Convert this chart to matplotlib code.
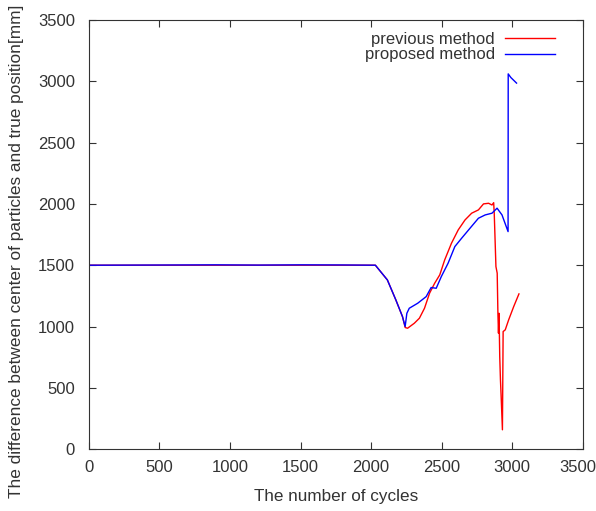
import matplotlib
matplotlib.use('Agg')
import matplotlib.pyplot as plt
from matplotlib.transforms import ScaledTranslation

# previous method (red)
prev_x = [0, 650, 1000, 1500, 2030, 2115, 2175, 2222, 2241, 2258, 2306, 2342, 2378,
          2414, 2450, 2486, 2521, 2569, 2617, 2665, 2712, 2760, 2796, 2832, 2856,
          2868, 2872, 2884, 2893, 2898, 2902, 2906, 2911, 2916, 2921, 2930, 2935,
          2950, 2974, 3010, 3047]
prev_y = [1500, 1500, 1500, 1500, 1500, 1380, 1217, 1081, 992, 986, 1027, 1068, 1149,
          1272, 1353, 1421, 1543, 1679, 1788, 1869, 1924, 1951, 2000, 2005, 1991,
          2010, 1924, 1489, 1435, 1108, 946, 1108, 755, 565, 429, 158, 959,
          973, 1054, 1163, 1266]

# proposed method (blue)
prop_x = [0, 650, 900, 1200, 1500, 1800, 2030, 2115, 2175, 2222, 2241, 2253, 2270,
          2330, 2390, 2425, 2461, 2497, 2545, 2593, 2641, 2700, 2760, 2808, 2856,
          2892, 2927, 2970, 2971, 2990, 3030]
prop_y = [1500, 1502, 1503, 1501, 1503, 1502, 1500, 1380, 1217, 1081, 1000, 1108, 1149,
          1190, 1244, 1318, 1312, 1407, 1516, 1652, 1720, 1801, 1883, 1910, 1924,
          1965, 1910, 1774, 3060, 3030, 2985]

x_ticks = [0, 500, 1000, 1500, 2000, 2500, 3000, 3500]
y_ticks = [0, 500, 1000, 1500, 2000, 2500, 3000, 3500]

plt.rcParams['font.family'] = ['Liberation Sans', 'DejaVu Sans']
txt = '#333333'

fig = plt.figure(figsize=(5.96, 5.11), dpi=100)
ax = fig.add_axes([0.149, 0.121, 0.829, 0.840])

ax.plot(prev_x, prev_y, color='#ff0000', lw=1, label='previous method')
ax.plot(prop_x, prop_y, color='#0000ff', lw=1, label='proposed method')

ax.set_xlim(0, 3500)
ax.set_ylim(0, 3500)
ax.set_xticks(x_ticks)
ax.set_yticks(y_ticks)
ax.tick_params(direction='in', top=True, right=True, length=5, labelsize=12,
               colors=txt)
ax.tick_params(axis='x', pad=8)
ax.tick_params(axis='y', pad=10)
for s in ax.spines.values():
    s.set_color(txt)

# last x tick label would run past the right edge, nudge it in a bit
last = ax.get_xticklabels()[-1]
last.set_transform(last.get_transform() + ScaledTranslation(-5 / 100, 0, fig.dpi_scale_trans))

ax.set_xlabel('The number of cycles', fontsize=12.3, color=txt, labelpad=10)
# y label sits a bit below the axes centre in the original
fig.text(17 / 596, 1 - 251 / 511,
         'The difference between center of particles and true position[mm]',
         rotation=90, ha='center', va='center', fontsize=12.4, color=txt)

leg = ax.legend(loc='upper right', bbox_to_anchor=(0.943, 0.973), frameon=False,
                markerfirst=False, fontsize=12, handlelength=3.0, handletextpad=0.6,
                labelspacing=0.05, borderpad=0, borderaxespad=0)
for t in leg.get_texts():
    t.set_color(txt)

fig.savefig('out.png', dpi=100)
